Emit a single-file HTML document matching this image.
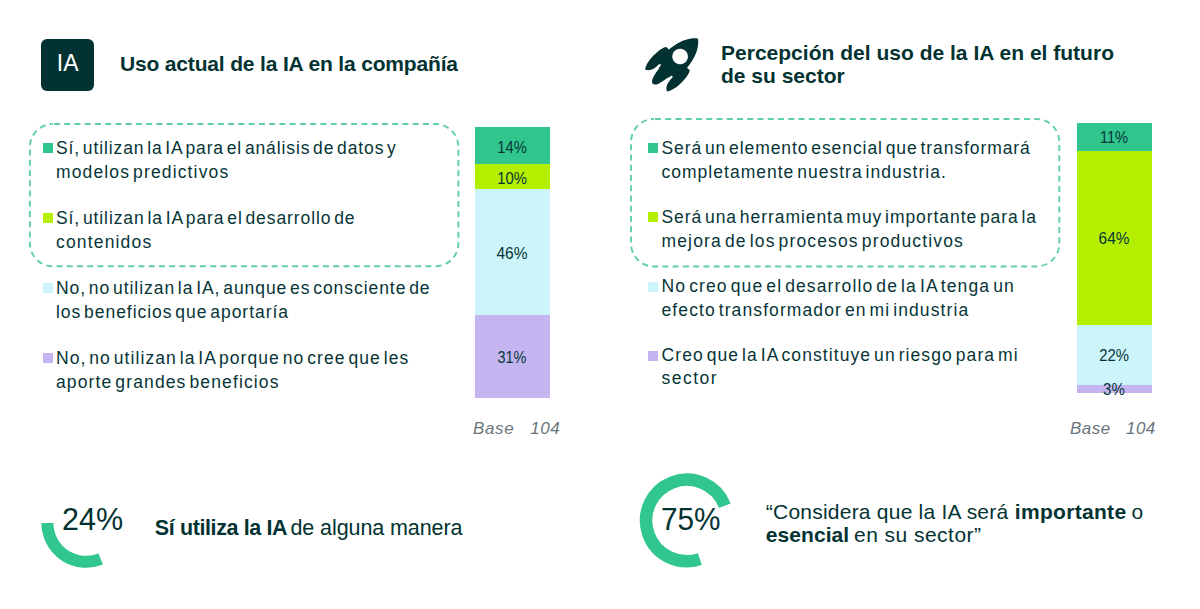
<!DOCTYPE html>
<html><head><meta charset="utf-8"><style>
html,body{margin:0;padding:0;background:#fff;}
body{width:1200px;height:609px;position:relative;overflow:hidden;font-family:"Liberation Sans",sans-serif;}
.t{position:absolute;white-space:nowrap;}
.c{text-align:center;}
</style></head><body>
<div style="position:absolute;left:475px;top:126.6px;width:75px;height:37.8px;background:#31c68d;"></div><div style="position:absolute;left:475px;top:164.4px;width:75px;height:24.6px;background:#b4ef00;"></div><div style="position:absolute;left:475px;top:189px;width:75px;height:126px;background:#ccf5fb;"></div><div style="position:absolute;left:475px;top:315px;width:75px;height:83px;background:#c4b5f0;"></div><div style="position:absolute;left:1077.25px;top:122.5px;width:74.75px;height:28.5px;background:#31c68d;"></div><div style="position:absolute;left:1077.25px;top:151px;width:74.75px;height:173.75px;background:#b4ef00;"></div><div style="position:absolute;left:1077.25px;top:324.75px;width:74.75px;height:60.25px;background:#ccf5fb;"></div><div style="position:absolute;left:1077.25px;top:385px;width:74.75px;height:7.75px;background:#c4b5f0;"></div><div style="position:absolute;left:43px;top:143px;width:10px;height:10px;background:#31c68d;"></div><div style="position:absolute;left:43px;top:213px;width:10px;height:10px;background:#b4ef00;"></div><div style="position:absolute;left:43px;top:283px;width:10px;height:10px;background:#ccf5fb;"></div><div style="position:absolute;left:43px;top:353px;width:10px;height:10px;background:#c4b5f0;"></div><div style="position:absolute;left:647.75px;top:143px;width:10px;height:10px;background:#31c68d;"></div><div style="position:absolute;left:647.75px;top:212.25px;width:10px;height:10px;background:#b4ef00;"></div><div style="position:absolute;left:647.75px;top:281.5px;width:10px;height:10px;background:#ccf5fb;"></div><div style="position:absolute;left:647.75px;top:351px;width:10px;height:10px;background:#c4b5f0;"></div><div style="position:absolute;left:41.25px;top:38.75px;width:52.75px;height:52.5px;background:#033232;border-radius:6px;"></div>
<svg width="1200" height="609" style="position:absolute;left:0;top:0">
<rect x="29.9" y="124" width="428.5" height="142.25" rx="23" ry="23" fill="none" stroke="#60d0a4" stroke-width="1.9" stroke-dasharray="6 4.25" stroke-dashoffset="-1"/>
<rect x="631" y="119" width="428.3" height="147.5" rx="23" ry="23" fill="none" stroke="#60d0a4" stroke-width="1.9" stroke-dasharray="6 4.25" stroke-dashoffset="-1"/>
<path d="M 47.4 523 A 38.8 38.8 0 0 0 100.7 559" fill="none" stroke="#31c68d" stroke-width="12"/>
<path d="M 724.8 505.7 A 40.75 40.75 0 1 0 699.8 559.1" fill="none" stroke="#31c68d" stroke-width="12.5"/>
<g transform="translate(680.1 56.5) rotate(45)" fill="#033232">
<path d="M 0 -25.2 C 4.50 -22.50 10.00 -14.00 11.60 -5.00 C 12.30 -1.00 12.80 1.00 12.80 3.00 L 16.60 3.00 C 18.70 5.30 19.70 12.00 19.50 19.90 C 19.30 25.50 17.80 31.00 15.60 34.00 C 14.00 33.40 12.60 32.20 11.80 31.00 C 10.20 29.00 9.60 25.00 9.50 21.00 C 9.40 19.00 8.00 18.60 7.40 20.00 L 7.10 22.30 L 6.40 23.40 C 5.80 27.50 5.00 32.00 4.00 34.50 C 3.00 37.00 1.60 38.60 0.00 38.60 C -1.60 38.60 -3.00 37.00 -4.00 34.50 C -5.00 32.00 -5.80 27.50 -6.40 23.40 L -7.10 22.30 L -7.40 20.00 C -8.00 18.60 -9.40 19.00 -9.50 21.00 C -9.60 25.00 -10.20 29.00 -11.80 31.00 C -12.60 32.20 -14.00 33.40 -15.60 34.00 C -17.80 31.00 -19.30 25.50 -19.50 19.90 C -19.70 12.00 -18.70 5.30 -16.60 3.00 L -12.80 3.00 C -12.80 1.00 -12.30 -1.00 -11.60 -5.00 C -10.00 -14.00 -4.50 -22.50 0.00 -25.20 Z M 0 -7.8 A 7.8 7.8 0 1 0 0.01 -7.8 Z" fill-rule="evenodd"/>
</g>
</svg>
<div class="t" style="left:41.25px;top:36.75px;width:52.75px;height:52.5px;line-height:52.5px;text-align:center;color:#fff;font-size:23px;">IA</div>
<div class="t" id="l1" style="left:56.00px;top:137.75px;font-size:17.5px;line-height:21.0px;font-weight:400;font-style:normal;color:#073537;letter-spacing:0.889px;word-spacing:-3.0px;">Sí, utilizan la IA para el análisis de datos y</div>
<div class="t" id="l2" style="left:56.00px;top:161.50px;font-size:17.5px;line-height:21.0px;font-weight:400;font-style:normal;color:#073537;letter-spacing:1.139px;word-spacing:-3.0px;">modelos predictivos</div>
<div class="t" id="l3" style="left:56.00px;top:207.75px;font-size:17.5px;line-height:21.0px;font-weight:400;font-style:normal;color:#073537;letter-spacing:0.910px;word-spacing:-3.0px;">Sí, utilizan la IA para el desarrollo de</div>
<div class="t" id="l4" style="left:56.00px;top:231.50px;font-size:17.5px;line-height:21.0px;font-weight:400;font-style:normal;color:#073537;letter-spacing:1.167px;word-spacing:-3.0px;">contenidos</div>
<div class="t" id="l5" style="left:56.00px;top:277.75px;font-size:17.5px;line-height:21.0px;font-weight:400;font-style:normal;color:#073537;letter-spacing:0.944px;word-spacing:-3.0px;">No, no utilizan la IA, aunque es consciente de</div>
<div class="t" id="l6" style="left:56.00px;top:301.50px;font-size:17.5px;line-height:21.0px;font-weight:400;font-style:normal;color:#073537;letter-spacing:0.963px;word-spacing:-3.0px;">los beneficios que aportaría</div>
<div class="t" id="l7" style="left:56.00px;top:347.75px;font-size:17.5px;line-height:21.0px;font-weight:400;font-style:normal;color:#073537;letter-spacing:1.058px;word-spacing:-3.0px;">No, no utilizan la IA porque no cree que les</div>
<div class="t" id="l8" style="left:56.00px;top:371.50px;font-size:17.5px;line-height:21.0px;font-weight:400;font-style:normal;color:#073537;letter-spacing:1.125px;word-spacing:-3.0px;">aporte grandes beneficios</div>
<div class="t" id="r1" style="left:661.50px;top:137.75px;font-size:17.5px;line-height:21.0px;font-weight:400;font-style:normal;color:#073537;letter-spacing:0.927px;word-spacing:-3.0px;">Será un elemento esencial que transformará</div>
<div class="t" id="r2" style="left:661.50px;top:161.50px;font-size:17.5px;line-height:21.0px;font-weight:400;font-style:normal;color:#073537;letter-spacing:1.016px;word-spacing:-3.0px;">completamente nuestra industria.</div>
<div class="t" id="r3" style="left:661.50px;top:207.00px;font-size:17.5px;line-height:21.0px;font-weight:400;font-style:normal;color:#073537;letter-spacing:0.940px;word-spacing:-3.0px;">Será una herramienta muy importante para la</div>
<div class="t" id="r4" style="left:661.50px;top:230.90px;font-size:17.5px;line-height:21.0px;font-weight:400;font-style:normal;color:#073537;letter-spacing:1.152px;word-spacing:-3.0px;">mejora de los procesos productivos</div>
<div class="t" id="r5" style="left:661.50px;top:275.90px;font-size:17.5px;line-height:21.0px;font-weight:400;font-style:normal;color:#073537;letter-spacing:1.131px;word-spacing:-3.0px;">No creo que el desarrollo de la IA tenga un</div>
<div class="t" id="r6" style="left:661.50px;top:299.60px;font-size:17.5px;line-height:21.0px;font-weight:400;font-style:normal;color:#073537;letter-spacing:1.100px;word-spacing:-3.0px;">efecto transformador en mi industria</div>
<div class="t" id="r7" style="left:661.50px;top:344.60px;font-size:17.5px;line-height:21.0px;font-weight:400;font-style:normal;color:#073537;letter-spacing:1.083px;word-spacing:-3.0px;">Creo que la IA constituye un riesgo para mi</div>
<div class="t" id="r8" style="left:661.50px;top:368.40px;font-size:17.5px;line-height:21.0px;font-weight:400;font-style:normal;color:#073537;letter-spacing:1.500px;word-spacing:-3.0px;">sector</div>
<div class="t" id="t1" style="left:120.00px;top:51.01px;font-size:21px;line-height:25.2px;font-weight:700;font-style:normal;color:#033232;letter-spacing:-0.167px;">Uso actual de la IA en la compañía</div>
<div class="t" id="t2" style="left:721.00px;top:40.26px;font-size:21px;line-height:25.2px;font-weight:700;font-style:normal;color:#033232;letter-spacing:0.013px;">Percepción del uso de la IA en el futuro</div>
<div class="t" id="t3" style="left:721.00px;top:63.11px;font-size:21px;line-height:25.2px;font-weight:700;font-style:normal;color:#033232;letter-spacing:0.000px;">de su sector</div>
<div class="t" id="b1" style="left:473.00px;top:419.41px;font-size:17px;line-height:20.4px;font-weight:400;font-style:italic;color:#6a767c;letter-spacing:0.611px;">Base&nbsp;&nbsp;&nbsp;104</div>
<div class="t" id="b2" style="left:1070.00px;top:419.41px;font-size:17px;line-height:20.4px;font-weight:400;font-style:italic;color:#6a767c;letter-spacing:0.444px;">Base&nbsp;&nbsp;&nbsp;104</div>
<div class="t" id="p1" style="left:62.00px;top:500.01px;font-size:32px;line-height:38.4px;font-weight:400;font-style:normal;color:#033232;letter-spacing:0.000px;transform:scaleX(0.9534);transform-origin:0 0;">24%</div>
<div class="t" id="s1a" style="left:154.80px;top:515.91px;font-size:21.5px;line-height:25.8px;font-weight:700;font-style:normal;color:#033232;letter-spacing:-0.387px;">Sí utiliza la IA</div>
<div class="t" id="s1b" style="left:290.50px;top:515.91px;font-size:21.5px;line-height:25.8px;font-weight:400;font-style:normal;color:#033232;letter-spacing:-0.093px;">de alguna manera</div>
<div class="t" id="p2" style="left:660.80px;top:500.01px;font-size:32px;line-height:38.4px;font-weight:400;font-style:normal;color:#033232;letter-spacing:0.000px;transform:scaleX(0.9300);transform-origin:0 0;">75%</div>
<div class="t" id="q1a" style="left:765.80px;top:499.11px;font-size:21px;line-height:25.2px;font-weight:400;font-style:normal;color:#033232;letter-spacing:0.225px;">“Considera que la IA será</div>
<div class="t" id="q1b" style="left:1014.80px;top:499.11px;font-size:21px;line-height:25.2px;font-weight:700;font-style:normal;color:#033232;letter-spacing:0.311px;">importante</div>
<div class="t" id="q1c" style="left:1131.50px;top:499.11px;font-size:21px;line-height:25.2px;font-weight:400;font-style:normal;color:#033232;letter-spacing:0.000px;">o</div>
<div class="t" id="q2a" style="left:765.80px;top:521.51px;font-size:21px;line-height:25.2px;font-weight:700;font-style:normal;color:#033232;letter-spacing:0.057px;">esencial</div>
<div class="t" id="q2b" style="left:854.00px;top:521.51px;font-size:21px;line-height:25.2px;font-weight:400;font-style:normal;color:#033232;letter-spacing:0.467px;">en su sector”</div>
<div class="t c" id="v1" style="left:471.75px;width:80px;top:137.51px;font-size:16.5px;line-height:19.8px;color:#073537;transform:scaleX(0.8889)">14%</div>
<div class="t c" id="v2" style="left:471.75px;width:80px;top:168.76px;font-size:16.5px;line-height:19.8px;color:#073537;transform:scaleX(0.8987)">10%</div>
<div class="t c" id="v3" style="left:472.00px;width:80px;top:244.10px;font-size:16.5px;line-height:19.8px;color:#073537;transform:scaleX(0.9406)">46%</div>
<div class="t c" id="v4" style="left:471.50px;width:80px;top:347.51px;font-size:16.5px;line-height:19.8px;color:#073537;transform:scaleX(0.8750)">31%</div>
<div class="t c" id="w1" style="left:1073.85px;width:80px;top:128.10px;font-size:16.5px;line-height:19.8px;color:#073537;transform:scaleX(0.8855)">11%</div>
<div class="t c" id="w2" style="left:1073.72px;width:80px;top:229.41px;font-size:16.5px;line-height:19.8px;color:#073537;transform:scaleX(0.9311)">64%</div>
<div class="t c" id="w3" style="left:1074.22px;width:80px;top:346.26px;font-size:16.5px;line-height:19.8px;color:#073537;transform:scaleX(0.9001)">22%</div>
<div class="t c" id="w4" style="left:1073.60px;width:80px;top:380.01px;font-size:16.5px;line-height:19.8px;color:#073537;transform:scaleX(0.9112)">3%</div>
</body></html>
